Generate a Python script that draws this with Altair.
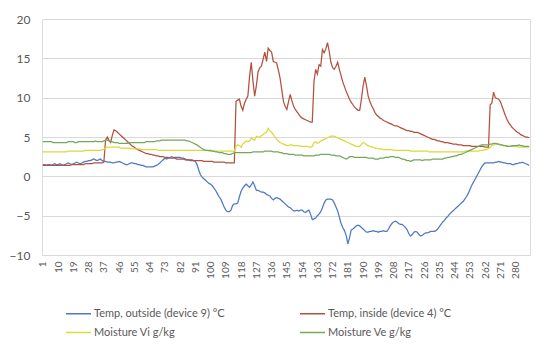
import altair as alt
import pandas as pd

series_names = [
    "Temp, outside (device 9) °C",
    "Temp, inside (device 4) °C",
    "Moisture Vi g/kg",
    "Moisture Ve g/kg",
]
series_colors = ["#4E78C4", "#B4503E", "#DCD93A", "#72A85C"]

x_tick_labels = list(range(1, 289, 9))
y_ticks = [-10, -5, 0, 5, 10, 15, 20]

temp_outside = [
    1.5, 1.5, 1.4, 1.5, 1.5, 1.4, 1.5, 1.6, 1.5, 1.5, 1.6, 1.5,
    1.4, 1.5, 1.6, 1.7, 1.6, 1.5, 1.6, 1.7, 1.8, 1.7, 1.6, 1.7,
    1.8, 1.9, 1.9, 2.0, 2.0, 2.1, 2.2, 2.1, 2.0, 2.1, 2.2, 2.0,
    1.9, 1.9, 1.8, 1.8, 1.8, 1.7, 1.7, 1.8, 1.8, 1.9, 1.8, 1.7,
    1.6, 1.5, 1.5, 1.6, 1.7, 1.7, 1.6, 1.6, 1.5, 1.5, 1.4, 1.4,
    1.3, 1.2, 1.2, 1.2, 1.2, 1.2, 1.3, 1.4, 1.5, 1.7, 1.9, 2.1,
    2.3, 2.2, 2.3, 2.4, 2.5, 2.4, 2.4, 2.4, 2.4, 2.4, 2.3, 2.3,
    2.2, 2.1, 2.1, 2.0, 2.0, 2.0, 1.9, 1.5, 0.8, 0.2, -0.1, -0.3,
    -0.5, -0.7, -0.9, -1.0, -1.2, -1.5, -1.8, -2.2, -2.6, -2.9, -3.4, -3.9,
    -4.3, -4.5, -4.5, -4.3, -3.7, -3.5, -3.5, -3.4, -2.6, -1.9, -1.5, -1.2,
    -1.0, -1.2, -1.4, -1.1, -0.7, -1.2, -1.8, -1.8, -1.9, -2.0, -2.0, -2.1,
    -2.3, -2.4, -2.5, -2.8, -3.0, -2.8, -2.7, -2.8, -2.9, -3.1, -3.3, -3.5,
    -3.7, -3.9, -4.0, -4.2, -4.4, -4.4, -4.3, -4.4, -4.3, -4.3, -4.5, -4.6,
    -4.4, -4.3, -4.8, -5.5, -5.4, -5.3, -5.0, -4.8, -4.5, -4.0, -3.4, -3.0,
    -2.9, -2.9, -2.9, -3.0, -3.4, -3.9, -4.4, -5.2, -6.0, -6.5, -6.9, -7.5,
    -8.6, -7.8, -6.8, -6.7, -6.5, -6.3, -6.2, -6.3, -6.5, -6.7, -6.9, -7.1,
    -7.1, -7.0, -7.0, -6.9, -7.0, -7.0, -7.1, -7.0, -7.0, -6.9, -7.0, -7.0,
    -6.7, -6.3, -6.0, -5.8, -5.7, -5.8, -6.0, -6.1, -6.1, -6.3, -6.5, -6.8,
    -7.3, -7.6, -7.4, -7.1, -7.0, -7.1, -7.4, -7.6, -7.5, -7.3, -7.2, -7.2,
    -7.1, -7.0, -7.0, -7.0, -6.9, -6.7, -6.4, -6.1, -5.8, -5.6, -5.3, -5.1,
    -4.8, -4.6, -4.4, -4.2, -4.0, -3.8, -3.6, -3.4, -3.2, -2.9, -2.6, -2.2,
    -1.7, -1.2, -0.8, -0.4, 0.0, 0.4, 0.8, 1.2, 1.5, 1.7, 1.7, 1.7,
    1.7, 1.7, 1.7, 1.8, 1.8, 1.9, 1.8, 1.8, 1.7, 1.7, 1.6, 1.6,
    1.6, 1.5, 1.5, 1.6, 1.6, 1.7, 1.7, 1.8, 1.7, 1.6, 1.5, 1.4,
]

temp_inside = [
    1.4, 1.4, 1.4, 1.4, 1.4, 1.4, 1.4, 1.4, 1.4, 1.4, 1.4, 1.4,
    1.4, 1.4, 1.4, 1.4, 1.4, 1.5, 1.5, 1.5, 1.5, 1.5, 1.5, 1.5,
    1.5, 1.6, 1.6, 1.6, 1.6, 1.6, 1.7, 1.7, 1.7, 1.7, 1.7, 1.7,
    1.8, 4.6, 5.0, 4.6, 4.3, 5.2, 5.9, 5.8, 5.6, 5.4, 5.2, 5.0,
    4.8, 4.6, 4.4, 4.2, 4.0, 3.8, 3.7, 3.5, 3.4, 3.3, 3.2, 3.1,
    3.0, 2.9, 2.9, 2.8, 2.8, 2.7, 2.7, 2.6, 2.6, 2.5, 2.5, 2.5,
    2.4, 2.4, 2.4, 2.3, 2.3, 2.3, 2.3, 2.2, 2.2, 2.2, 2.2, 2.2,
    2.1, 2.1, 2.1, 2.1, 2.1, 2.0, 2.0, 2.0, 2.0, 2.0, 2.0, 1.9,
    1.9, 1.9, 1.9, 1.9, 1.9, 1.8, 1.8, 1.8, 1.8, 1.8, 1.8, 1.8,
    1.7, 1.7, 1.7, 1.7, 1.7, 1.7, 9.5, 9.7, 9.8, 8.9, 8.4, 9.3,
    9.8, 10.2, 12.7, 14.5, 12.1, 10.2, 11.5, 13.3, 13.8, 14.0, 14.9, 15.8,
    14.6, 16.3, 16.0, 15.8, 14.6, 14.5, 14.4, 13.5, 12.5, 11.0, 9.5, 8.9,
    8.5, 9.5, 10.4, 9.6, 8.9, 8.5, 8.2, 7.9, 7.6, 7.4, 7.3, 7.2,
    7.1, 7.0, 6.9, 6.9, 12.0, 13.6, 13.0, 14.2, 14.0, 16.1, 15.7, 16.2,
    17.0, 15.9, 14.5, 13.8, 13.6, 14.0, 14.5, 13.6, 12.8, 12.0, 11.4, 10.8,
    10.3, 9.8, 9.4, 9.1, 8.8, 8.6, 8.4, 8.4, 9.8, 11.5, 12.6, 11.5,
    10.2, 9.5, 9.0, 8.6, 8.1, 7.8, 7.6, 7.4, 7.3, 7.1, 7.0, 6.9,
    6.8, 6.7, 6.6, 6.5, 6.4, 6.4, 6.3, 6.2, 6.1, 6.0, 5.9, 5.8,
    5.8, 5.7, 5.7, 5.6, 5.6, 5.6, 5.5, 5.4, 5.3, 5.2, 5.1, 5.0,
    4.9, 4.8, 4.7, 4.7, 4.6, 4.5, 4.5, 4.4, 4.4, 4.3, 4.3, 4.3,
    4.2, 4.2, 4.1, 4.1, 4.1, 4.0, 4.0, 4.0, 3.9, 3.9, 3.9, 3.9,
    3.9, 3.8, 3.8, 3.8, 3.8, 3.8, 3.8, 3.8, 3.8, 3.7, 3.7, 3.7,
    9.1, 9.3, 10.7, 10.0, 9.9, 9.8, 9.5, 8.9, 8.3, 7.7, 7.2, 6.8,
    6.5, 6.2, 6.0, 5.8, 5.6, 5.5, 5.3, 5.2, 5.1, 5.0, 5.0, 4.9,
]

moisture_vi = [
    3.1, 3.1, 3.1, 3.1, 3.1, 3.1, 3.1, 3.1, 3.1, 3.1, 3.1, 3.1,
    3.1, 3.1, 3.1, 3.2, 3.2, 3.2, 3.2, 3.2, 3.2, 3.2, 3.2, 3.2,
    3.2, 3.3, 3.3, 3.3, 3.3, 3.3, 3.3, 3.3, 3.3, 3.3, 3.3, 3.4,
    3.4, 3.6, 3.7, 3.7, 3.7, 3.7, 3.7, 3.7, 3.7, 3.7, 3.6, 3.6,
    3.6, 3.6, 3.6, 3.6, 3.5, 3.5, 3.5, 3.5, 3.5, 3.5, 3.4, 3.4,
    3.4, 3.4, 3.4, 3.4, 3.4, 3.4, 3.4, 3.4, 3.3, 3.3, 3.3, 3.3,
    3.3, 3.3, 3.3, 3.3, 3.3, 3.3, 3.3, 3.3, 3.3, 3.3, 3.3, 3.3,
    3.3, 3.3, 3.3, 3.3, 3.3, 3.3, 3.3, 3.3, 3.3, 3.3, 3.3, 3.3,
    3.3, 3.3, 3.2, 3.2, 3.2, 3.2, 3.2, 3.2, 3.2, 3.2, 3.2, 3.2,
    3.2, 3.2, 3.2, 3.2, 3.2, 3.2, 3.8, 4.0, 3.9, 3.7, 4.1, 4.3,
    4.5, 4.4, 4.5, 4.9, 4.7, 4.6, 5.1, 5.0, 5.0, 5.2, 5.3, 5.5,
    5.6, 6.1, 5.8, 5.6, 5.3, 5.0, 4.7, 4.5, 4.3, 4.2, 4.1, 4.0,
    3.9, 3.9, 4.0, 4.0, 3.9, 3.9, 3.9, 3.9, 3.8, 3.8, 3.8, 3.8,
    3.8, 3.7, 3.7, 3.8, 4.3, 4.4, 4.2, 4.3, 4.5, 4.6, 4.7, 4.8,
    4.9, 5.0, 5.1, 5.1, 5.1, 5.0, 4.9, 4.8, 4.7, 4.6, 4.5, 4.4,
    4.3, 4.2, 4.1, 4.0, 3.9, 3.8, 3.8, 3.8, 4.1, 4.3, 4.2, 4.0,
    3.9, 3.8, 3.7, 3.7, 3.6, 3.6, 3.5, 3.5, 3.5, 3.4, 3.4, 3.4,
    3.4, 3.4, 3.4, 3.3, 3.3, 3.3, 3.3, 3.3, 3.3, 3.3, 3.3, 3.3,
    3.3, 3.2, 3.2, 3.2, 3.2, 3.2, 3.2, 3.2, 3.2, 3.2, 3.2, 3.2,
    3.1, 3.1, 3.1, 3.1, 3.1, 3.1, 3.1, 3.1, 3.1, 3.1, 3.1, 3.1,
    3.1, 3.1, 3.1, 3.1, 3.1, 3.1, 3.1, 3.1, 3.1, 3.2, 3.2, 3.2,
    3.2, 3.2, 3.2, 3.2, 3.2, 3.2, 3.3, 3.3, 3.3, 3.4, 3.4, 3.5,
    3.7, 3.9, 4.0, 4.1, 4.2, 4.1, 4.0, 4.0, 3.9, 3.9, 3.9, 3.8,
    3.8, 3.8, 3.8, 3.8, 3.8, 3.7, 3.7, 3.7, 3.7, 3.7, 3.7, 3.7,
]

moisture_ve = [
    4.4, 4.4, 4.4, 4.4, 4.4, 4.4, 4.3, 4.3, 4.3, 4.3, 4.3, 4.3,
    4.3, 4.3, 4.3, 4.4, 4.4, 4.4, 4.4, 4.3, 4.3, 4.4, 4.4, 4.4,
    4.4, 4.4, 4.4, 4.4, 4.4, 4.4, 4.4, 4.5, 4.4, 4.4, 4.4, 4.4,
    4.5, 4.6, 4.6, 4.5, 4.4, 4.4, 4.3, 4.3, 4.3, 4.2, 4.2, 4.2,
    4.2, 4.2, 4.2, 4.3, 4.3, 4.3, 4.3, 4.3, 4.3, 4.3, 4.3, 4.3,
    4.3, 4.4, 4.4, 4.4, 4.4, 4.4, 4.4, 4.5, 4.5, 4.5, 4.6, 4.6,
    4.6, 4.6, 4.6, 4.6, 4.6, 4.6, 4.6, 4.6, 4.6, 4.6, 4.6, 4.6,
    4.6, 4.5, 4.5, 4.4, 4.3, 4.2, 4.1, 4.0, 3.8, 3.7, 3.5, 3.4,
    3.3, 3.3, 3.3, 3.3, 3.2, 3.2, 3.1, 3.1, 3.0, 3.0, 3.0, 2.9,
    2.9, 2.8, 2.8, 2.8, 2.9, 3.0, 3.0, 3.0, 3.0, 3.0, 3.0, 3.0,
    3.0, 3.0, 3.0, 3.0, 3.1, 3.1, 3.1, 3.1, 3.1, 3.1, 3.1, 3.2,
    3.2, 3.2, 3.2, 3.2, 3.1, 3.1, 3.1, 3.1, 3.0, 3.0, 2.9, 2.9,
    2.9, 2.8, 2.8, 2.8, 2.8, 2.7, 2.7, 2.7, 2.7, 2.7, 2.6, 2.6,
    2.6, 2.6, 2.6, 2.6, 2.6, 2.7, 2.7, 2.7, 2.8, 2.8, 2.8, 2.8,
    2.8, 2.8, 2.7, 2.7, 2.7, 2.6, 2.6, 2.6, 2.5, 2.4, 2.3, 2.2,
    2.3, 2.5, 2.5, 2.5, 2.4, 2.4, 2.4, 2.4, 2.4, 2.4, 2.4, 2.4,
    2.3, 2.3, 2.3, 2.3, 2.2, 2.2, 2.2, 2.3, 2.3, 2.3, 2.4, 2.4,
    2.4, 2.5, 2.5, 2.5, 2.4, 2.4, 2.4, 2.3, 2.2, 2.2, 2.1, 2.0,
    2.0, 1.9, 2.0, 2.1, 2.1, 2.1, 2.1, 2.1, 2.0, 2.1, 2.1, 2.1,
    2.1, 2.1, 2.2, 2.2, 2.2, 2.2, 2.2, 2.2, 2.2, 2.3, 2.3, 2.4,
    2.4, 2.5, 2.5, 2.6, 2.6, 2.7, 2.8, 2.8, 2.9, 3.0, 3.1, 3.2,
    3.3, 3.4, 3.5, 3.6, 3.7, 3.8, 3.9, 4.0, 4.0, 4.0, 4.0, 4.0,
    4.1, 4.1, 4.2, 4.2, 4.1, 4.1, 4.0, 4.0, 3.9, 3.9, 3.8, 3.8,
    3.8, 3.9, 3.9, 3.9, 3.9, 4.0, 3.9, 3.9, 3.8, 3.8, 3.8, 3.8,
]

all_series = [temp_outside, temp_inside, moisture_vi, moisture_ve]
for s in all_series:
    assert len(s) == 288, len(s)

rows = []
for k, (name, vals) in enumerate(zip(series_names, all_series)):
    for i, v in enumerate(vals):
        rows.append({"idx": i + 1, "value": v, "series": name, "order": k})
df = pd.DataFrame(rows)

FONT = "Lato"
TXT = "#595959"

chart = alt.Chart(df).mark_line(strokeWidth=1.25).encode(
    x=alt.X(
        "idx:Q",
        scale=alt.Scale(domain=[0.5, 288.5], nice=False, zero=False),
        axis=alt.Axis(
            values=x_tick_labels,
            labelAngle=270,
            grid=False,
            ticks=False,
            domain=False,
            title=None,
            labelFontSize=10,
            labelColor=TXT,
            labelFont=FONT,
            labelPadding=6,
            labelOverlap=False,
        ),
    ),
    y=alt.Y(
        "value:Q",
        scale=alt.Scale(domain=[-10, 20], nice=False),
        axis=alt.Axis(
            values=y_ticks,
            grid=True,
            gridColor="#D9D9D9",
            gridWidth=1,
            ticks=False,
            domain=False,
            title=None,
            labelFontSize=12,
            labelColor=TXT,
            labelFont=FONT,
            labelPadding=12,
        ),
    ),
    color=alt.Color(
        "series:N",
        scale=alt.Scale(domain=series_names, range=series_colors),
        sort=series_names,
        legend=alt.Legend(
            title=None,
            orient="none",
            legendX=23,
            legendY=281,
            columns=2,
            direction="horizontal",
            symbolType="stroke",
            symbolSize=625,
            symbolStrokeWidth=1.5,
            labelFontSize=11,
            labelFont=FONT,
            labelColor=TXT,
            labelOffset=2,
            columnPadding=72,
            rowPadding=-8,
        ),
    ),
    detail="series:N",
    order="order:Q",
).properties(
    width=488,
    height=236,
    autosize=alt.AutoSizeParams(type="none"),
    padding={"left": 34, "top": 11, "right": 12, "bottom": 86},
).configure_view(stroke=None).configure(background="white")

chart.save("out.html", embed_options={"renderer": "svg", "actions": False})
